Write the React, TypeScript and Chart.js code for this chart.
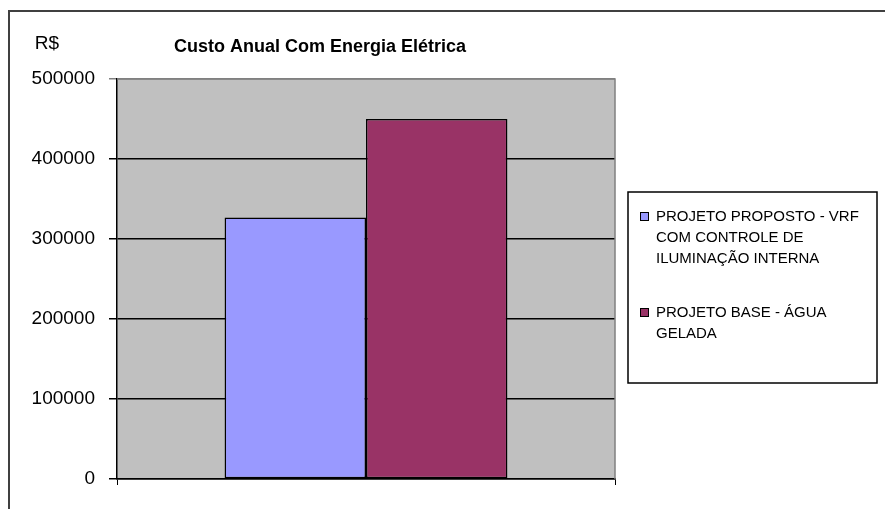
import React, { useEffect, useRef } from "react";
import { Chart, registerables } from "chart.js";

Chart.register(...registerables);

const categories: string[] = [""];
const seriesNames: string[] = [
  "PROJETO PROPOSTO - VRF COM CONTROLE DE ILUMINAÇÃO INTERNA",
  "PROJETO BASE - ÁGUA GELADA",
];
const legendLines: string[][] = [
  ["PROJETO PROPOSTO - VRF", "COM CONTROLE DE", "ILUMINAÇÃO INTERNA"],
  ["PROJETO BASE - ÁGUA", "GELADA"],
];
const proposedValues: number[] = [327000];
const baseValues: number[] = [450000];
const seriesColors: string[] = ["#9999FF", "#993366"];
const titleText = "Custo Anual Com Energia Elétrica";
const yAxisUnit = "R$";
const yMin = 0;
const yMax = 500000;
const yStep = 100000;

const FONT = "'Liberation Sans', Arial, sans-serif";

const decorPlugin = {
  id: "decor",
  beforeDraw(chart: any) {
    const { ctx, chartArea } = chart;
    const { left, right, top, bottom } = chartArea;
    ctx.save();
    ctx.fillStyle = "#C0C0C0";
    ctx.fillRect(left, top, right - left, bottom - top);
    ctx.restore();
  },
  afterDatasetsDraw(chart: any) {
    const { ctx, chartArea } = chart;
    const { left, right, top, bottom } = chartArea;
    ctx.save();
    ctx.strokeStyle = "#808080";
    ctx.lineWidth = 1.5;
    ctx.beginPath();
    ctx.moveTo(left, top);
    ctx.lineTo(right, top);
    ctx.lineTo(right, bottom);
    ctx.stroke();
    ctx.restore();
  },
  afterDraw(chart: any) {
    const { ctx } = chart;
    ctx.save();
    // outer frame
    ctx.strokeStyle = "#404040";
    ctx.lineWidth = 2;
    ctx.beginPath();
    ctx.moveTo(9, chart.height + 5);
    ctx.lineTo(9, 11);
    ctx.lineTo(chart.width + 5, 11);
    ctx.stroke();

    // title
    ctx.fillStyle = "#000";
    ctx.textBaseline = "middle";
    ctx.textAlign = "center";
    ctx.font = `bold 18px ${FONT}`;
    ctx.fillText(titleText, 320, 47);

    // unit
    ctx.font = `19px ${FONT}`;
    ctx.fillText(yAxisUnit, 47, 44);

    // legend
    const lx = 628, ly = 192, lw = 249, lh = 191;
    ctx.fillStyle = "#FFFFFF";
    ctx.fillRect(lx, ly, lw, lh);
    ctx.strokeStyle = "#000";
    ctx.lineWidth = 1.5;
    ctx.strokeRect(lx, ly, lw, lh);

    const itemTops = [217, 313];
    const lineH = 21;
    chart.data.datasets.forEach((ds: any, i: number) => {
      const cy = itemTops[i];
      ctx.fillStyle = ds.backgroundColor;
      ctx.fillRect(640, cy - 5, 9, 9);
      ctx.strokeStyle = "#000";
      ctx.lineWidth = 1;
      ctx.strokeRect(640.5, cy - 4.5, 8, 8);
      ctx.fillStyle = "#000";
      ctx.textAlign = "left";
      ctx.textBaseline = "middle";
      ctx.font = `15px ${FONT}`;
      legendLines[i].forEach((line, j) => {
        ctx.fillText(line, 656, cy + j * lineH);
      });
    });
    ctx.restore();
  },
};

export default function App() {
  const canvasRef = useRef<HTMLCanvasElement | null>(null);

  useEffect(() => {
    if (!canvasRef.current) return;
    const chart = new Chart(canvasRef.current, {
      type: "bar",
      data: {
        labels: categories,
        datasets: [
          {
            label: seriesNames[0],
            data: proposedValues,
            backgroundColor: seriesColors[0],
            borderColor: "#000",
            borderWidth: 1.5,
            borderSkipped: false,
            categoryPercentage: 0.568,
            barPercentage: 1.0,
          },
          {
            label: seriesNames[1],
            data: baseValues,
            backgroundColor: seriesColors[1],
            borderColor: "#000",
            borderWidth: 1.5,
            borderSkipped: false,
            categoryPercentage: 0.568,
            barPercentage: 1.0,
          },
        ],
      },
      options: {
        responsive: false,
        animation: false,
        layout: { padding: { left: 0, right: 270, top: 79, bottom: 0 } },
        plugins: {
          legend: { display: false },
          title: { display: false },
          tooltip: { enabled: false },
        },
        scales: {
          x: {
            type: "category",
            offset: true,
            afterFit: (scale: any) => {
              scale.height = 30;
            },
            ticks: { display: false },
            grid: {
              offset: true,
              drawOnChartArea: false,
              drawTicks: true,
              tickLength: 6,
              color: "#000",
            },
            border: { display: true, color: "#000", width: 1.5 },
          },
          y: {
            min: yMin,
            max: yMax,
            afterFit: (scale: any) => {
              scale.width = 117;
            },
            ticks: {
              stepSize: yStep,
              padding: 14,
              color: "#000",
              font: { family: FONT, size: 19 },
              callback: (v: any) => String(v),
            },
            grid: {
              color: (c: any) =>
                c.tick && c.tick.value === yMax ? "#808080" : "#000",
              lineWidth: 1.5,
              drawTicks: true,
              tickLength: 8,
            },
            border: { display: true, color: "#000", width: 1.5 },
          },
        },
      },
      plugins: [decorPlugin],
    });
    return () => chart.destroy();
  }, []);

  return (
    <div style={{ position: "absolute", left: 0, top: 0, width: 885, height: 509, background: "#fff" }}>
      <canvas ref={canvasRef} width={885} height={509} style={{ display: "block" }} />
    </div>
  );
}
